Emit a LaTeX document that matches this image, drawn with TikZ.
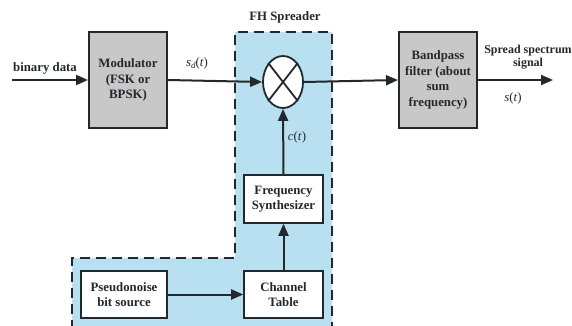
\documentclass[tikz,border=0pt]{standalone}
\usepackage{fontspec}
\setmainfont{Liberation Serif}
\usetikzlibrary{arrows.meta,shapes.geometric}
\definecolor{fhblue}{RGB}{184,224,240}
\definecolor{boxgray}{RGB}{200,200,200}
\definecolor{linec}{RGB}{35,40,45}
\newcommand{\sig}[2]{\textit{#1}\raisebox{-2.5pt}{\fontsize{9}{9}\selectfont\textit{#2}}(\textit{t})}
\tikzset{
  every node/.style={font=\fontsize{12.8}{15.5}\selectfont\bfseries, text=linec},
  graybox/.style={draw=linec, line width=2pt, fill=boxgray, minimum width=78pt, minimum height=96pt, align=center, inner sep=1pt},
  whitebox/.style={draw=linec, line width=1.6pt, fill=white, align=center, inner sep=1pt},
  conn/.style={draw=linec, line width=2pt, -{Triangle[length=12pt,width=10pt]}},
  lbl/.style={font=\fontsize{12.8}{14}\selectfont\mdseries}
}
\begin{document}
\begin{tikzpicture}[x=1pt,y=-1pt]
\useasboundingbox (0,0) rectangle (572,326);
\clip (0,0) rectangle (572,326);
% FH spreader region
\fill[fhblue] (235,32) -- (332,32) -- (332,330) -- (72,330) -- (72,258) -- (235,258) -- cycle;
\draw[linec, line width=2.4pt, dash pattern=on 10pt off 6pt] (72,330) -- (72,258) -- (235,258) -- (235,32) -- (332,32) -- (332,330);
\node at (285,17) {FH Spreader};
% nodes
\coordinate (in) at (12,80);
\node[graybox] (mod) at (128,80) {Modulator\\(FSK or\\BPSK)};
\node[draw=linec, line width=1.8pt, fill=white, ellipse, minimum width=40pt, minimum height=52pt, inner sep=0pt] (mix) at (283,82) {};
\draw[linec, line width=1.8pt] (mix.north west) -- (mix.south east) (mix.north east) -- (mix.south west);
\node[graybox] (bpf) at (438,80) {Bandpass\\filter (about\\sum\\frequency)};
\coordinate (out) at (553,80);
\node[whitebox, minimum width=79pt, minimum height=48pt] (fs) at (283.5,199) {Frequency\\Synthesizer};
\node[whitebox, minimum width=79pt, minimum height=47pt] (ct) at (283.5,294.5) {Channel\\Table};
\node[whitebox, minimum width=86pt, minimum height=47pt] (pn) at (124,294.5) {Pseudonoise\\bit source};
% connectors
\draw[conn] (in) -- (mod.west);
\draw[conn] (mod.east) -- (mix.west);
\draw[conn] (mix.east) -- (bpf.west);
\draw[conn] (bpf.east) -- (out);
\draw[conn] (pn.east) -- (ct.west);
\draw[conn] (ct.north) -- (fs.south);
\draw[conn] (fs.north) -- (mix.south);
% labels
\node at (45,68) {binary data};
\node[lbl] at (197,63) {\sig{s}{d}};
\node[lbl] at (297,137) {\textit{c}(\textit{t})};
\node[lbl] at (513,98) {\textit{s}(\textit{t})};
\node[align=center, inner sep=0pt, font=\fontsize{12}{13}\selectfont\bfseries] at (528,57) {Spread spectrum\\signal};
\end{tikzpicture}
\end{document}
